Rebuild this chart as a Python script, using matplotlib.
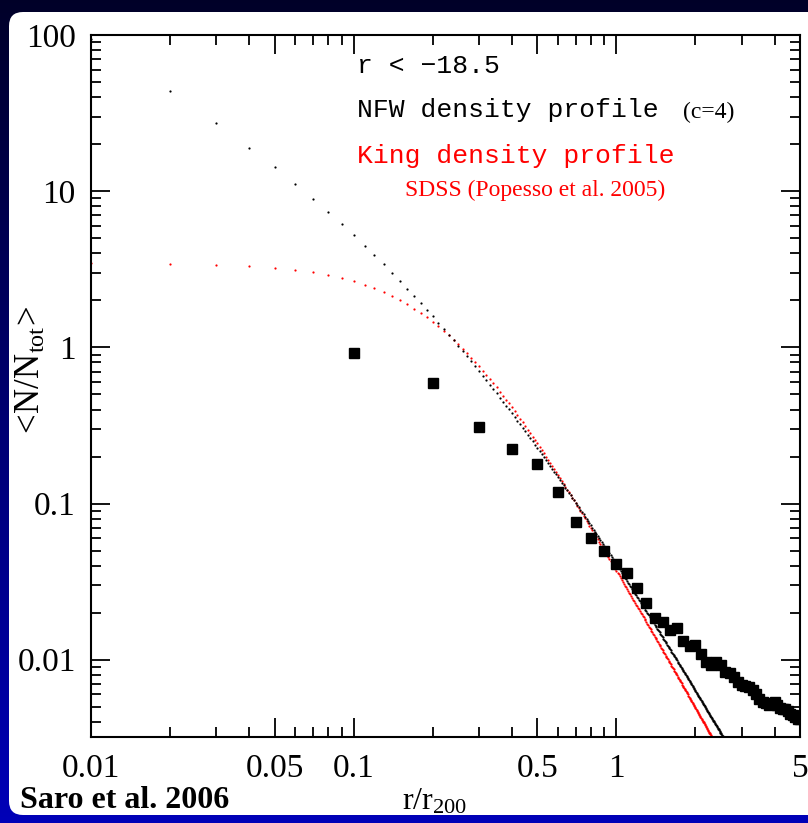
import numpy as np
import matplotlib
matplotlib.use("Agg")
import matplotlib.pyplot as plt
from matplotlib.patches import FancyBboxPatch
from matplotlib.ticker import FixedLocator, FixedFormatter, NullFormatter

# ---------------- data ----------------
# observed profile (black squares)
r_obs = [0.1, 0.2, 0.3, 0.4, 0.5, 0.6, 0.7, 0.8, 0.9, 1.0,
         1.1, 1.2, 1.3, 1.4, 1.5, 1.6, 1.7, 1.8, 1.9, 2.0,
         2.1, 2.2, 2.3, 2.4, 2.5, 2.6, 2.7, 2.8, 2.9, 3.0,
         3.1, 3.2, 3.3, 3.4, 3.5, 3.6, 3.7, 3.8, 3.9, 4.0,
         4.1, 4.2, 4.3, 4.4, 4.5, 4.6, 4.7, 4.8, 4.9, 5.0]
n_obs = [0.915, 0.588, 0.307, 0.225, 0.178, 0.119, 0.0767, 0.060, 0.050, 0.0412,
         0.0357, 0.0286, 0.0230, 0.0186, 0.0175, 0.0156, 0.0159, 0.0132, 0.0123, 0.0125,
         0.0108, 0.0097, 0.0093, 0.0096, 0.0093, 0.0084, 0.0082, 0.0077, 0.0072, 0.0069,
         0.0068, 0.0067, 0.0064, 0.0060, 0.0056, 0.0054, 0.0053, 0.0051, 0.0052, 0.0054,
         0.0051, 0.0049, 0.0048, 0.0048, 0.0047, 0.0045, 0.0044, 0.0043, 0.0042, 0.0042]

# model profiles (parameters as labelled in the chart)
nfw_c = 4.0          # NFW concentration
nfw_norm = 4.09
king_rc = 0.226      # King core radius (SDSS, Popesso et al. 2005)
king_norm = 3.47
r_model = np.round(np.arange(1, 301) * 0.01, 2)

x_ticks = [0.01, 0.05, 0.1, 0.5, 1, 5]
x_tick_labels = ["0.01", "0.05", "0.1", "0.5", "1", "5"]
y_ticks = [0.01, 0.1, 1, 10, 100]
y_tick_labels = ["0.01", "0.1", "1", "10", "100"]

# ---------------- figure ----------------
W, H = 808, 823
plt.rcParams["mathtext.fontset"] = "custom"
plt.rcParams["mathtext.rm"] = "Liberation Serif"
plt.rcParams["mathtext.it"] = "Liberation Serif"
fig = plt.figure(figsize=(W / 100, H / 100), dpi=100)

# background gradient + white rounded panel
bg = fig.add_axes([0, 0, 1, 1])
bg.set_xlim(0, W)
bg.set_ylim(0, H)
bg.axis("off")
grad = np.linspace(0, 1, 256).reshape(-1, 1)
top_col = np.array([0.0, 0.0, 0.16])
bot_col = np.array([0.0, 0.0, 0.72])
img = top_col[None, None, :] * (1 - grad[:, :, None]) + bot_col[None, None, :] * grad[:, :, None]
bg.imshow(img, extent=[0, W, 0, H], aspect="auto", origin="upper", zorder=0)
panel = FancyBboxPatch((9, 8), W + 40, H - 20, boxstyle="round,pad=0,rounding_size=14",
                       facecolor="white", edgecolor="none", zorder=1)
bg.add_patch(panel)

ax = fig.add_axes([91 / W, (H - 737) / H, 709 / W, 702 / H])
ax.set_xscale("log")
ax.set_yscale("log")
ax.set_xlim(0.01, 5)
ax.set_ylim(0.0032, 100)

nfw = nfw_norm / ((nfw_c * r_model) * (1 + nfw_c * r_model) ** 2)
king = king_norm / (1 + (r_model / king_rc) ** 2) ** 1.5

ax.plot(r_model, king, linestyle="none", marker="o", ms=1.6, mew=0, color="red", zorder=2)
ax.plot(r_model, nfw, linestyle="none", marker="o", ms=1.6, mew=0, color="black", zorder=3)
ax.plot(r_obs, n_obs, linestyle="none", marker="s", ms=6.5, color="black", zorder=4)

# ticks
ax.xaxis.set_major_locator(FixedLocator(x_ticks))
ax.xaxis.set_major_formatter(FixedFormatter(x_tick_labels))
x_minor = [m * d for d in (0.01, 0.1, 1) for m in range(2, 10) if m != 5 and m * d < 5]
ax.xaxis.set_minor_locator(FixedLocator(x_minor))
ax.xaxis.set_minor_formatter(NullFormatter())
ax.yaxis.set_major_locator(FixedLocator(y_ticks))
ax.yaxis.set_major_formatter(FixedFormatter(y_tick_labels))
y_minor = [m * d for d in (0.001, 0.01, 0.1, 1, 10) for m in range(2, 10)]
ax.yaxis.set_minor_locator(FixedLocator(y_minor))
ax.yaxis.set_minor_formatter(NullFormatter())

ax.tick_params(which="both", direction="in", top=True, right=True, width=1.3, color="black")
ax.tick_params(which="major", length=14)
ax.tick_params(which="minor", length=7.5)
ax.tick_params(axis="x", which="major", pad=12)
ax.tick_params(axis="y", which="major", pad=11)
for lab in ax.get_xticklabels() + ax.get_yticklabels():
    lab.set_fontfamily("Liberation Serif")
    lab.set_fontsize(24)
for s in ax.spines.values():
    s.set_linewidth(1.5)

# labels
fig.text(30 / W, 1 - 372 / H, r"$\mathrm{<\!N/N_{tot}\!>}$", rotation=90,
         ha="center", va="center", fontsize=25)
fig.text(435 / W, 1 - 801 / H, r"$\mathrm{r/r_{200}}$", ha="center", va="center", fontsize=23)
fig.text(20 / W, 1 - 800 / H, "Saro et al. 2006", ha="left", va="center",
         fontsize=23, fontweight="bold", family="Liberation Serif")

# annotations
mono = "Liberation Mono"
fig.text(357 / W, 1 - 66 / H, "r < \u221218.5", ha="left", va="center", fontsize=19, family=mono)
fig.text(357 / W, 1 - 110 / H, "NFW density profile", ha="left", va="center", fontsize=19, family=mono)
fig.text(683 / W, 1 - 112 / H, "(c=4)", ha="left", va="center", fontsize=17, family="Liberation Serif")
fig.text(357 / W, 1 - 156 / H, "King density profile", ha="left", va="center", fontsize=19,
         family=mono, color="red")
fig.text(405 / W, 1 - 190 / H, "SDSS (Popesso et al. 2005)", ha="left", va="center", fontsize=17,
         family="Liberation Serif", color="red")

fig.savefig("out.png", dpi=100)
